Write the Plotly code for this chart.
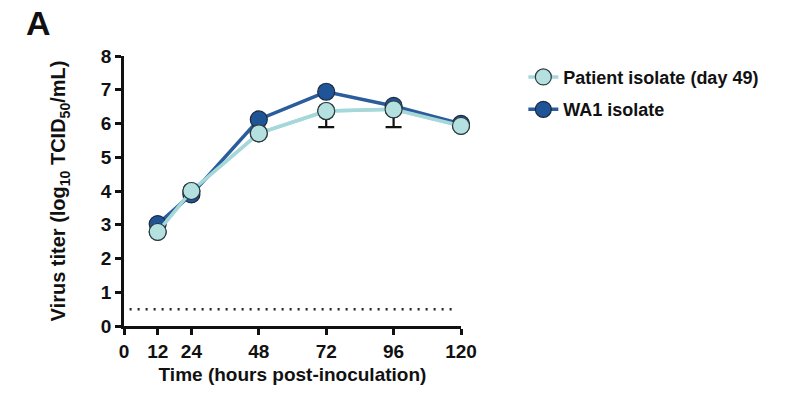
import plotly.graph_objects as go

hours = [12, 24, 48, 72, 96, 120]
patient = [2.79, 4.00, 5.71, 6.37, 6.42, 5.93]
patient_err_minus = [0, 0, 0, 0.48, 0.53, 0]
wa1 = [3.02, 3.90, 6.12, 6.94, 6.52, 5.99]
lod = 0.5
lod_x = [2, 118.5]
x_ticks = [0, 12, 24, 48, 72, 96, 120]
y_ticks = [0, 1, 2, 3, 4, 5, 6, 7, 8]

FONT = "Arial, Liberation Sans, sans-serif"

fig = go.Figure()

fig.add_trace(go.Scatter(
    x=lod_x, y=[lod, lod], mode="lines",
    line=dict(color="#222222", width=2.5, dash="2px,6px"),
    showlegend=False, hoverinfo="skip"))

fig.add_trace(go.Scatter(
    x=hours, y=patient, mode="lines+markers", name="Patient isolate (day 49)",
    line=dict(color="#a6d8da", width=3.5),
    marker=dict(size=17, color="#b4e0df", line=dict(color="#2a3a40", width=1.2)),
    error_y=dict(type="data", symmetric=False, array=[0]*6, arrayminus=patient_err_minus,
                 color="#111111", thickness=2.2, width=8),
    cliponaxis=False, legendgroup="a"))

fig.add_trace(go.Scatter(
    x=hours, y=wa1, mode="lines+markers", name="WA1 isolate",
    line=dict(color="#2b5c9c", width=3.5),
    marker=dict(size=17, color="#1f5596", line=dict(color="#1a2a40", width=1.2)),
    cliponaxis=False, legendgroup="b"))

# redraw patient markers on top of WA1 (as in reference)
fig.add_trace(go.Scatter(
    x=hours, y=patient, mode="lines+markers", showlegend=False,
    line=dict(color="#a6d8da", width=3.5),
    marker=dict(size=17, color="#b4e0df", line=dict(color="#2a3a40", width=1.2)),
    cliponaxis=False, hoverinfo="skip"))

fig.update_layout(
    width=803, height=394,
    margin=dict(l=124, r=342, t=56, b=68),
    paper_bgcolor="white", plot_bgcolor="white",
    font=dict(family=FONT, color="#111111"),
    showlegend=True,
    legend=dict(x=1.185, y=0.99, xanchor="left", yanchor="top",
                font=dict(size=18, family=FONT, color="#111111", weight="bold"),
                tracegroupgap=6, traceorder="grouped", itemwidth=30,
                bgcolor="rgba(0,0,0,0)"),
    xaxis=dict(range=[0, 120], tickvals=x_ticks, ticktext=[str(v) for v in x_ticks],
               showgrid=False, zeroline=False, showline=True, linecolor="#111111", linewidth=2.5,
               ticks="outside", ticklen=6, tickwidth=2.5, tickcolor="#111111",
               tickfont=dict(size=19, family=FONT, weight="bold"),
               title=dict(text="Time (hours post-inoculation)", standoff=8,
                          font=dict(size=19, family=FONT, weight="bold"))),
    yaxis=dict(range=[0, 8], tickvals=y_ticks,
               showgrid=False, zeroline=False, showline=True, linecolor="#111111", linewidth=2.5,
               ticks="outside", ticklen=6, tickwidth=2.5, tickcolor="#111111",
               tickfont=dict(size=19, family=FONT, weight="bold"),
               title=dict(text="Virus titer (log<sub>10</sub> TCID<sub>50</sub>/mL)", standoff=30,
                          font=dict(size=20, family=FONT, weight="bold"))),
    annotations=[dict(text="<b>A</b>", xref="paper", yref="paper", x=-0.296, y=1.2,
                      xanchor="left", yanchor="top", showarrow=False,
                      font=dict(size=34, family=FONT, color="#111111"))],
)

fig.write_html("out.html")
